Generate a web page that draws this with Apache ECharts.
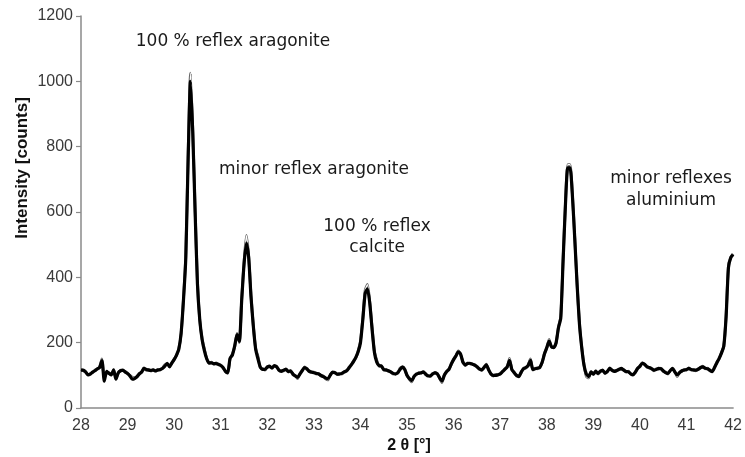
<!DOCTYPE html>
<html>
<head>
<meta charset="utf-8">
<script src="https://cdn.jsdelivr.net/npm/echarts@6/dist/echarts.min.js"></script>
<style>html,body{margin:0;padding:0;background:#fff}#chart{width:745px;height:457px}</style>
</head>
<body>
<div id="chart"></div>
<script>
// 2θ sampling of the scan
const angleStart = 28;
const angleStep = 0.05;
const xTicks = [28,29,30,31,32,33,34,35,36,37,38,39,40,41,42];
const yTicks = [0,200,400,600,800,1000,1200];

// main measurement (thick black line), counts
const intensityMain = [
116,116,110,102,104,110,114,120,124,145,
82,112,106,102,116,88,108,114,116,110,
106,98,88,90,96,104,110,121,118,116,
115,116,114,116,118,121,128,137,126,138,
148,162,180,230,330,460,760,1000,840,600,
380,270,210,175,150,138,138,136,136,134,
130,124,112,108,152,162,190,225,204,330,
440,505,460,340,250,180,150,125,118,118,
125,128,122,130,126,116,112,116,118,112,
113,104,98,94,104,115,124,120,112,110,
108,106,104,100,96,92,90,100,110,108,
104,104,106,110,114,122,132,142,155,172,
200,270,350,365,320,240,170,140,130,128,
118,116,114,110,106,104,108,118,126,118,
100,90,84,96,104,106,108,110,104,98,
98,104,108,104,92,82,100,112,118,135,
148,160,172,165,140,132,136,137,134,132,
126,120,116,124,132,118,104,100,100,102,
104,112,118,126,146,118,108,100,96,110,
120,124,130,146,118,120,122,124,140,165,
185,205,188,185,200,245,275,450,620,735,
735,650,520,380,260,185,130,104,96,110,
104,112,106,112,116,106,112,121,116,112,
115,118,121,116,112,111,105,101,110,121,
128,137,134,126,124,120,116,118,121,120,
114,108,106,114,121,110,101,108,114,116,
118,121,118,116,116,118,124,126,122,120,
116,111,124,138,152,168,190,280,430,460,
470];

// second measurement (thin outlined line), counts
const intensityThin = [
118,114,112,100,106,108,116,118,126,150,
90,110,108,100,118,92,106,116,114,112,
104,100,94,92,94,106,108,123,116,118,
113,118,112,118,116,123,132,135,128,136,
150,160,182,228,335,470,780,1025,850,610,
385,268,212,180,152,136,140,134,138,132,
132,122,114,106,150,165,188,228,200,335,
445,528,465,345,252,182,158,123,120,116,
127,126,124,128,128,114,114,114,120,110,
115,102,100,90,106,113,126,118,114,108,
110,104,106,98,98,90,86,102,108,110,
102,106,104,112,112,124,130,144,153,175,
205,275,360,378,325,245,172,146,128,130,
116,118,112,112,104,106,106,122,124,120,
98,88,80,98,102,108,106,112,102,100,
96,106,106,106,90,78,102,110,120,133,
150,158,175,163,142,130,138,135,136,130,
128,118,118,122,134,116,106,98,102,100,
106,110,120,124,152,116,110,98,98,108,
122,122,132,150,116,122,120,126,138,168,
183,210,186,187,198,248,280,455,625,745,
745,655,522,382,262,187,132,96,92,112,
102,114,104,114,114,108,110,123,114,114,
113,120,119,118,110,113,103,103,108,123,
126,139,132,128,122,122,114,120,119,122,
112,110,104,116,119,112,96,110,112,118,
116,123,116,118,114,120,122,128,120,122,
114,113,122,140,150,170,188,285,435,462,
472];

const annotations = [
  {text: '100 % reflex aragonite', x: 233, y: 42},
  {text: 'minor reflex aragonite', x: 314, y: 170},
  {text: '100 % reflex', x: 377, y: 227},
  {text: 'calcite', x: 377, y: 248},
  {text: 'minor reflexes', x: 671, y: 179},
  {text: 'aluminium', x: 671, y: 201}
];

const toPairs = arr => arr.map((v, i) => [+(angleStart + i * angleStep).toFixed(2), v]);

const chart = echarts.init(document.getElementById('chart'), null, {renderer: 'canvas'});
const axisColor = '#8a8a8a';
const labelFont = {fontSize: 16, color: '#3a3a3a', fontFamily: 'Liberation Sans, Arial, sans-serif'};

const graphics = annotations.map(a => ({
  type: 'text', x: a.x, y: a.y, silent: true,
  style: {text: a.text, textAlign: 'center', textVerticalAlign: 'middle',
    font: '17px "DejaVu Sans", sans-serif', fill: '#1a1a1a'}
}));
graphics.push({
  type: 'text', x: 22, y: 168, rotation: Math.PI / 2, silent: true,
  style: {text: 'Intensity [counts]', textAlign: 'center', textVerticalAlign: 'middle',
    font: 'bold 17px "Liberation Sans", Arial, sans-serif', fill: '#111'}
});
graphics.push({
  type: 'text', x: 409, y: 446, silent: true,
  style: {text: '2 θ [°]', textAlign: 'center', textVerticalAlign: 'middle',
    font: 'bold 16px "Liberation Sans", Arial, sans-serif', fill: '#111'}
});

chart.setOption({
  animation: false,
  backgroundColor: '#fff',
  grid: {left: 81, right: 11, top: 16, bottom: 49, containLabel: false},
  xAxis: {
    type: 'value', min: xTicks[0], max: xTicks[xTicks.length - 1], interval: 1,
    axisLine: {show: true, lineStyle: {color: axisColor, width: 1.5}},
    axisTick: {show: false},
    splitLine: {show: false},
    axisLabel: Object.assign({margin: 10, formatter: v => String(v)}, labelFont)
  },
  yAxis: {
    type: 'value', min: yTicks[0], max: yTicks[yTicks.length - 1], interval: 200,
    axisLine: {show: true, lineStyle: {color: axisColor, width: 1.5}},
    axisTick: {show: true, length: 5, lineStyle: {color: axisColor, width: 1.2}},
    splitLine: {show: false},
    axisLabel: Object.assign({margin: 8, formatter: v => String(v)}, labelFont)
  },
  graphic: graphics,
  series: [
    {type: 'line', name: 'thinEdge', data: toPairs(intensityThin), showSymbol: false, smooth: 0.2,
      lineStyle: {color: '#666', width: 2.8}, z: 2},
    {type: 'line', name: 'thinCore', data: toPairs(intensityThin), showSymbol: false, smooth: 0.2,
      lineStyle: {color: '#fff', width: 1.1}, z: 3},
    {type: 'line', name: 'main', data: toPairs(intensityMain), showSymbol: false, smooth: 0.2,
      lineStyle: {color: '#000', width: 3.2}, z: 4}
  ]
});
</script>
</body>
</html>
